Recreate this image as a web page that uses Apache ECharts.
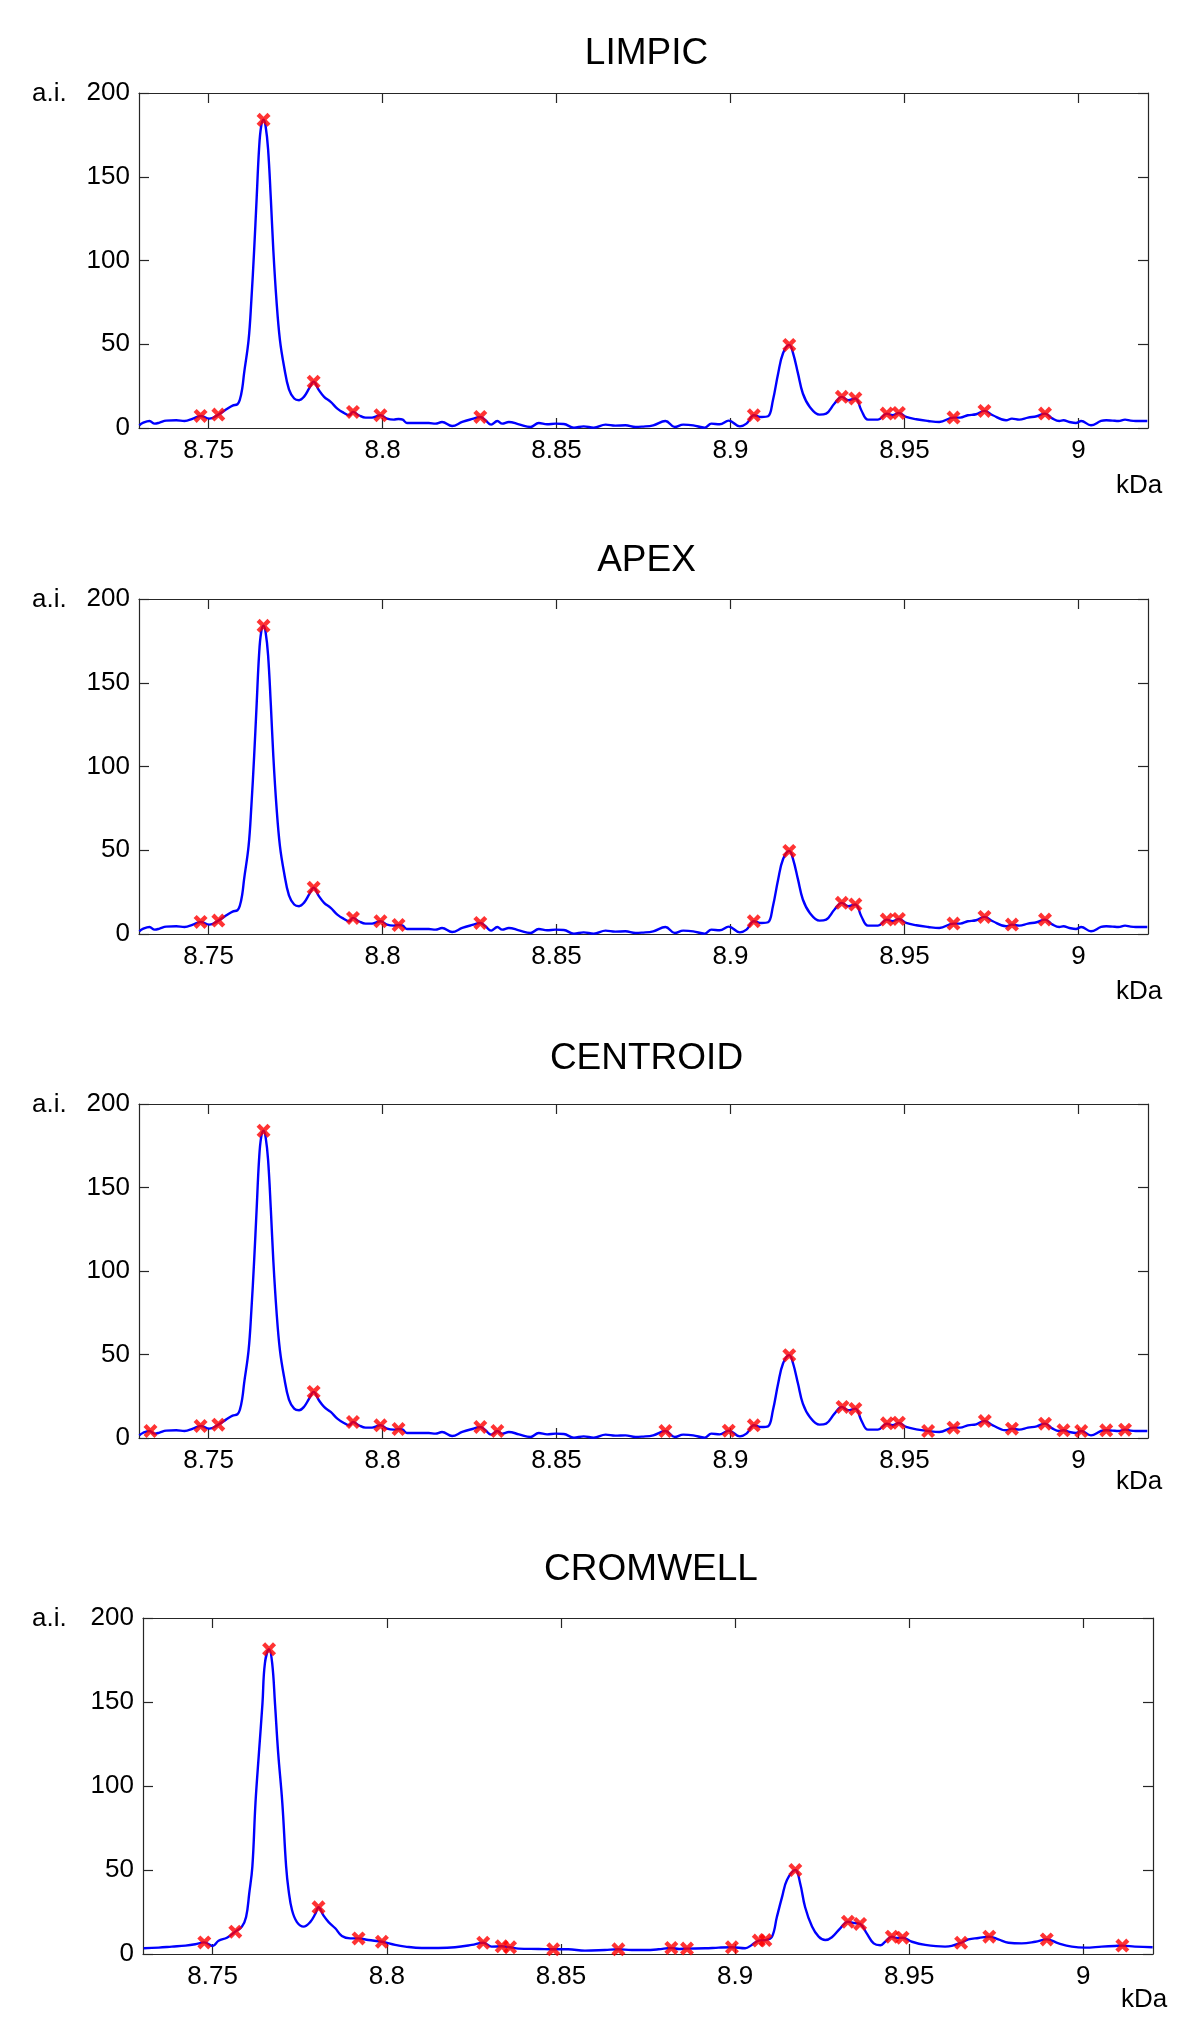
<!DOCTYPE html>
<html>
<head>
<meta charset="utf-8">
<script src="https://cdn.jsdelivr.net/npm/echarts@6/dist/echarts.min.js"></script>
<style>
html,body{margin:0;padding:0;background:#fff;}
#chart{width:1200px;height:2037px;}
</style>
</head>
<body>
<div id="chart"></div>
<script>
// ---------------- DATA ----------------
const panelTitles = ['LIMPIC', 'APEX', 'CENTROID', 'CROMWELL'];
const massTicks = [8.75, 8.8, 8.85, 8.9, 8.95, 9];
const massTickLabels = ['8.75', '8.8', '8.85', '8.9', '8.95', '9'];
const intensityTicks = [0, 50, 100, 150, 200];
const yUnit = 'a.i.';
const xUnit = 'kDa';

// raw spectrum (shared by LIMPIC / APEX / CENTROID panels)
const rawMass = [
  8.7301, 8.7311, 8.7330, 8.7345, 8.7359, 8.7378, 8.7407, 8.7431, 8.7455, 8.7477,
  8.7502, 8.7528, 8.7550, 8.7569, 8.7583, 8.7590, 8.7597, 8.7602, 8.7615, 8.7623,
  8.7631, 8.7638, 8.7645, 8.7651, 8.7658, 8.7664, 8.7671, 8.7679, 8.7686, 8.7695,
  8.7705, 8.7717, 8.7731, 8.7746, 8.7760, 8.7774, 8.7789, 8.7802, 8.7817, 8.7832,
  8.7851, 8.7870, 8.7889, 8.7904, 8.7915, 8.7932, 8.7951, 8.7970, 8.7994, 8.8013,
  8.8032, 8.8046, 8.8058, 8.8070, 8.8104, 8.8133, 8.8152, 8.8171, 8.8200, 8.8229,
  8.8258, 8.8281, 8.8296, 8.8312, 8.8330, 8.8344, 8.8363, 8.8392, 8.8425, 8.8449,
  8.8473, 8.8497, 8.8521, 8.8550, 8.8578, 8.8607, 8.8641, 8.8669, 8.8698, 8.8727,
  8.8745, 8.8778, 8.8813, 8.8840, 8.8864, 8.8893, 8.8926, 8.8945, 8.8969, 8.8995,
  8.9027, 8.9046, 8.9067, 8.9089, 8.9108, 8.9122, 8.9137, 8.9151, 8.9169, 8.9180,
  8.9194, 8.9208, 8.9228, 8.9256, 8.9275, 8.9299, 8.9320, 8.9338, 8.9359, 8.9376,
  8.9395, 8.9424, 8.9449, 8.9466, 8.9484, 8.9505, 8.9534, 8.9568, 8.9600, 8.9641,
  8.9660, 8.9682, 8.9706, 8.9730, 8.9754, 8.9792, 8.9809, 8.9830, 8.9855, 8.9880,
  8.9904, 8.9926, 8.9945, 8.9957, 8.9974, 8.9993, 9.0008, 9.0036, 9.0065, 9.0080,
  9.0098, 9.0115, 9.0134, 9.0150, 9.0165, 9.0198
];
const rawIntensity = [
  1.6, 3.0, 4.2, 2.6, 3.2, 4.4, 4.6, 4.2, 5.6, 7.2,
  5.6, 8.0, 11.0, 13.4, 14.2, 17.0, 24.0, 32.6, 52.6, 76.5,
  106.5, 136.5, 166.5, 180.0, 184.0, 180.0, 166.5, 136.5, 106.5, 76.5,
  52.6, 36.6, 23.0, 17.6, 16.6, 18.6, 23.6, 27.6, 22.6, 18.6,
  15.6, 11.6, 9.0, 7.6, 9.6, 7.6, 6.2, 6.2, 7.6, 5.6,
  5.0, 5.4, 5.0, 3.0, 3.0, 3.0, 2.6, 3.6, 1.2, 3.6,
  5.4, 6.6, 4.6, 2.0, 4.2, 2.6, 3.6, 2.2, 0.6, 3.0,
  2.2, 2.6, 2.4, 0.2, 1.0, 0.2, 2.0, 1.4, 1.6, 0.6,
  0.8, 1.6, 4.2, 0.6, 2.0, 1.6, 0.2, 2.6, 2.2, 4.4,
  1.0, 2.6, 7.6, 6.6, 7.0, 16.6, 32.6, 44.6, 49.6, 44.6,
  32.6, 20.6, 12.6, 8.0, 8.6, 14.6, 18.6, 16.6, 17.6, 10.6,
  5.0, 5.0, 8.6, 7.6, 9.0, 6.6, 5.2, 4.2, 3.6, 6.2,
  6.2, 7.6, 8.2, 10.2, 7.6, 4.6, 5.6, 5.0, 6.2, 7.0,
  8.6, 5.6, 4.2, 4.6, 3.6, 3.0, 4.2, 1.6, 4.2, 4.6,
  4.4, 4.2, 5.0, 4.4, 4.2, 4.2
];

// denoised spectrum (CROMWELL panel)
const smoothMass = [
  8.7302, 8.7345, 8.7383, 8.7422, 8.7450, 8.7476, 8.7500, 8.7517, 8.7541, 8.7565,
  8.7584, 8.7596, 8.7605, 8.7614, 8.7623, 8.7633, 8.7643, 8.7650, 8.7662, 8.7671,
  8.7679, 8.7688, 8.7700, 8.7711, 8.7718, 8.7728, 8.7742, 8.7761, 8.7780, 8.7795,
  8.7804, 8.7818, 8.7833, 8.7852, 8.7871, 8.7895, 8.7919, 8.7947, 8.7986, 8.8024,
  8.8053, 8.8100, 8.8148, 8.8196, 8.8244, 8.8277, 8.8301, 8.8330, 8.8354, 8.8378,
  8.8436, 8.8478, 8.8521, 8.8569, 8.8626, 8.8665, 8.8703, 8.8742, 8.8780, 8.8817,
  8.8840, 8.8862, 8.8914, 8.8953, 8.8991, 8.9029, 8.9048, 8.9068, 8.9087, 8.9106,
  8.9120, 8.9135, 8.9149, 8.9173, 8.9187, 8.9201, 8.9221, 8.9240, 8.9259, 8.9278,
  8.9302, 8.9324, 8.9340, 8.9359, 8.9378, 8.9398, 8.9417, 8.9431, 8.9450, 8.9465,
  8.9481, 8.9508, 8.9546, 8.9603, 8.9622, 8.9649, 8.9670, 8.9699, 8.9730, 8.9756,
  8.9785, 8.9823, 8.9862, 8.9895, 8.9929, 8.9967, 9.0005, 9.0053, 9.0091, 9.0112,
  9.0148, 9.0199
];
const smoothIntensity = [
  3.4, 3.8, 4.4, 5.0, 5.8, 6.9, 4.8, 7.9, 9.7, 13.3,
  16.3, 22.0, 36.0, 52.0, 90.0, 120.0, 149.0, 173.0, 181.4, 173.0,
  149.0, 120.0, 90.0, 52.0, 38.0, 26.0, 19.0, 16.3, 19.0, 24.0,
  27.8, 23.0, 19.0, 15.3, 10.7, 9.3, 9.3, 8.3, 7.3, 5.4,
  4.4, 3.6, 3.6, 4.0, 5.4, 6.7, 4.4, 4.6, 4.0, 3.2,
  3.0, 2.8, 2.8, 2.0, 2.4, 2.8, 2.4, 2.4, 2.8, 3.6,
  3.0, 3.2, 3.4, 3.8, 4.0, 3.4, 5.4, 8.0, 8.3, 10.3,
  22.0, 34.0, 44.0, 50.0, 42.0, 28.0, 16.3, 10.3, 8.3, 10.0,
  15.3, 19.2, 18.5, 17.9, 12.3, 6.3, 5.2, 7.3, 10.3, 9.5,
  9.7, 7.3, 5.4, 4.4, 4.8, 6.7, 8.7, 9.5, 10.3, 8.7,
  6.7, 6.3, 7.3, 8.7, 6.3, 4.4, 3.8, 4.4, 4.8, 5.0,
  4.4, 4.0
];

// detected peaks per method
const limpicPeakMass = [8.7477, 8.7528, 8.7658, 8.7802, 8.7915, 8.7994, 8.8281, 8.9067, 8.9169, 8.9320, 8.9359, 8.9449, 8.9484, 8.9641, 8.9730, 8.9904];
const limpicPeakIntensity = [7.2, 8.0, 184.0, 27.6, 9.6, 7.6, 6.6, 7.6, 49.6, 18.6, 17.6, 8.6, 9.0, 6.2, 10.2, 8.6];

const apexPeakMass = [8.7477, 8.7528, 8.7658, 8.7802, 8.7915, 8.7994, 8.8046, 8.8281, 8.9067, 8.9169, 8.9320, 8.9359, 8.9449, 8.9484, 8.9641, 8.9730, 8.9809, 8.9904];
const apexPeakIntensity = [7.2, 8.0, 184.0, 27.6, 9.6, 7.6, 5.4, 6.6, 7.6, 49.6, 18.6, 17.6, 8.6, 9.0, 6.2, 10.2, 5.6, 8.6];

const centroidPeakMass = [8.7333, 8.7477, 8.7528, 8.7658, 8.7802, 8.7915, 8.7994, 8.8046, 8.8281, 8.8330, 8.8813, 8.8995, 8.9067, 8.9169, 8.9322, 8.9359, 8.9450, 8.9484, 8.9568, 8.9641, 8.9731, 8.9809, 8.9904, 8.9957, 9.0008, 9.0080, 9.0134];
const centroidPeakIntensity = [4.2, 7.2, 8.0, 184.0, 27.6, 9.6, 7.6, 5.4, 6.6, 4.2, 4.2, 4.4, 7.6, 49.6, 18.6, 17.4, 8.8, 9.2, 4.2, 6.2, 10.2, 5.6, 8.6, 4.6, 4.2, 4.6, 5.0];

const cromwellPeakMass = [8.7476, 8.7565, 8.7662, 8.7804, 8.7919, 8.7986, 8.8277, 8.8330, 8.8354, 8.8478, 8.8665, 8.8817, 8.8862, 8.8991, 8.9068, 8.9087, 8.9173, 8.9324, 8.9359, 8.9450, 8.9481, 8.9649, 8.9730, 8.9895, 9.0112];
const cromwellPeakIntensity = [6.9, 13.3, 181.4, 27.8, 9.3, 7.3, 6.7, 4.6, 4.0, 2.8, 2.8, 3.6, 3.2, 4.0, 8.0, 8.3, 50.0, 19.2, 17.9, 10.3, 9.7, 6.7, 10.3, 8.7, 5.0];

// ---------------- LAYOUT / STYLE ----------------
const FONT = '"Liberation Sans", Arial, Helvetica, sans-serif';
const grids = [
  { left: 139, top: 93,   width: 1009, height: 335 },
  { left: 139, top: 599,  width: 1009, height: 335 },
  { left: 139, top: 1104, width: 1009, height: 334 },
  { left: 143, top: 1618, width: 1010, height: 336 }
];
const titleCenterY = [54, 561, 1059, 1570];
const unitXCenterY = [486, 992, 1482, 2000];

const zip = (a, b) => a.map((v, i) => [v, b[i]]);
const rawData = zip(rawMass, rawIntensity);
const smoothData = zip(smoothMass, smoothIntensity);
const peaks = [
  zip(limpicPeakMass, limpicPeakIntensity),
  zip(apexPeakMass, apexPeakIntensity),
  zip(centroidPeakMass, centroidPeakIntensity),
  zip(cromwellPeakMass, cromwellPeakIntensity)
];
const curves = [rawData, rawData, rawData, smoothData];

const axisColor = '#262626';
const crossPath = 'path://M2.2,0 L5,2.8 L7.8,0 L10,2.2 L7.2,5 L10,7.8 L7.8,10 L5,7.2 L2.2,10 L0,7.8 L2.8,5 L0,2.2 Z';

const xAxes = [], yAxes = [], series = [], graphics = [];
grids.forEach((g, i) => {
  const common = {
    gridIndex: i, type: 'value', min: 8.73, max: 9.02,
    axisLine: { show: true, onZero: false, lineStyle: { color: axisColor, width: 1.2 } },
    axisTick: { show: true, inside: true, length: 10, customValues: massTicks, lineStyle: { color: axisColor, width: 1.2 } },
    splitLine: { show: false }
  };
  xAxes.push(Object.assign({}, common, {
    position: 'bottom',
    axisLabel: {
      show: true, customValues: massTicks, margin: 10, fontSize: 26, color: '#000', fontFamily: FONT,
      formatter: (v) => massTickLabels[massTicks.findIndex(t => Math.abs(t - v) < 1e-6)]
    }
  }));
  xAxes.push(Object.assign({}, common, { position: 'top', axisLabel: { show: false } }));
  const ycommon = {
    gridIndex: i, type: 'value', min: 0, max: 200, interval: 50,
    axisLine: { show: true, onZero: false, lineStyle: { color: axisColor, width: 1.2 } },
    axisTick: { show: true, inside: true, length: 10, lineStyle: { color: axisColor, width: 1.2 } },
    splitLine: { show: false }
  };
  yAxes.push(Object.assign({}, ycommon, {
    position: 'left',
    axisLabel: { show: true, margin: 9, fontSize: 26, color: '#000', fontFamily: FONT }
  }));
  yAxes.push(Object.assign({}, ycommon, { position: 'right', axisLabel: { show: false } }));

  series.push({
    type: 'line', xAxisIndex: 2 * i, yAxisIndex: 2 * i, data: curves[i],
    showSymbol: false, smooth: 0.4,
    lineStyle: { color: '#0000ff', width: 2.4 }, animation: false, silent: true, z: 2
  });
  series.push({
    type: 'scatter', xAxisIndex: 2 * i, yAxisIndex: 2 * i, data: peaks[i],
    symbol: crossPath, symbolSize: 14, itemStyle: { color: '#ff0000' },
    animation: false, silent: true, z: 3
  });

  graphics.push({
    type: 'text', x: g.left + g.width / 2 + 3, y: titleCenterY[i],
    style: { text: panelTitles[i], fontSize: 37, fontFamily: FONT, fill: '#000', align: 'center', verticalAlign: 'middle' }
  });
  graphics.push({
    type: 'text', x: 32, y: g.top + 1,
    style: { text: yUnit, fontSize: 26, fontFamily: FONT, fill: '#000', align: 'left', verticalAlign: 'middle' }
  });
  graphics.push({
    type: 'text', x: g.left + g.width - 9, y: unitXCenterY[i],
    style: { text: xUnit, fontSize: 26, fontFamily: FONT, fill: '#000', align: 'center', verticalAlign: 'middle' }
  });
});

const chart = echarts.init(document.getElementById('chart'), null, { renderer: 'canvas' });
chart.setOption({
  backgroundColor: '#ffffff',
  animation: false,
  grid: grids,
  xAxis: xAxes,
  yAxis: yAxes,
  series: series,
  graphic: graphics
});
</script>
</body>
</html>
